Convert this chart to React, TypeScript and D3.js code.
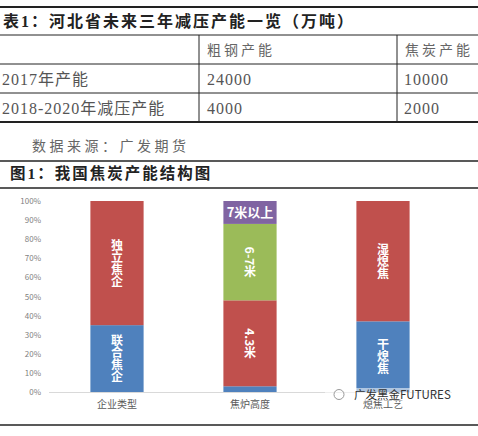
import React from 'react';
import * as d3 from 'd3';

// ---- Table data ----
const tableTitle = '表1：河北省未来三年减压产能一览（万吨）';
const tableHeaders = ['', '粗钢产能', '焦炭产能'];
const rowLabels = ['2017年产能', '2018-2020年减压产能'];
const steelValues = [24000, 4000];
const cokeValues = [10000, 2000];
const sourceText = '数据来源：广发期货';

// ---- Chart data ----
const chartTitle = '图1：我国焦炭产能结构图';
const categories = ['企业类型', '焦炉高度', '熄焦工艺'];
const enterpriseLabels = ['联合焦企', '独立焦企'];
const enterpriseValues = [35, 65];
const heightLabels = ['', '4.3米', '6-7米', '7米以上'];
const heightValues = [3, 45, 40, 12];
const quenchLabels = ['干熄焦', '湿熄焦'];
const quenchValues = [37, 63];
const yTicks = [0, 10, 20, 30, 40, 50, 60, 70, 80, 90, 100];
const watermark = '广发黑金FUTURES';

const stacks = [
  { cat: categories[0], labels: enterpriseLabels, values: enterpriseValues, colors: ['#4F81BD', '#C0504D'] },
  { cat: categories[1], labels: heightLabels, values: heightValues, colors: ['#4F81BD', '#C0504D', '#9BBB59', '#8064A2'] },
  { cat: categories[2], labels: quenchLabels, values: quenchValues, colors: ['#4F81BD', '#C0504D'] },
];

const serif = "'Liberation Serif', 'DejaVu Serif', 'Noto Sans CJK SC', serif";
const sans = "'Noto Sans CJK SC', 'Noto Sans', sans-serif";

export default function App() {
  const W = 478, H = 436;
  const x = d3.scaleBand<string>().domain(categories).range([50.5, 449.5]).paddingInner(0.6).paddingOuter(0.3);
  const y = d3.scaleLinear().domain([0, 100]).range([392, 201]);

  const colX = [0, 199, 397];
  const rowY = [35, 64, 93, 122];

  return (
    <svg width={W} height={H} style={{ position: 'absolute', left: 0, top: 0, background: '#fff' }}>
      {/* table */}
      <line x1={0} x2={W} y1={7} y2={7} stroke="#222" strokeWidth={2} />
      <text x={3} y={26.5} fontFamily={serif} fontWeight="bold" fontSize={16} fill="#222" letterSpacing={2}>{tableTitle}</text>
      {rowY.map((yy, i) => (
        <line key={'r' + i} x1={0} x2={W} y1={yy} y2={yy} stroke="#222" strokeWidth={i === 3 ? 2 : 1} />
      ))}
      {colX.slice(1).map((xx, i) => (
        <line key={'c' + i} x1={xx} x2={xx} y1={rowY[0]} y2={rowY[3]} stroke="#222" strokeWidth={1} />
      ))}
      {tableHeaders.map((h, i) => (
        <text key={'h' + i} x={colX[i] + 8} y={55} fontFamily={serif} fontSize={14} fill="#666" letterSpacing={3}>{h}</text>
      ))}
      {rowLabels.map((r, i) => (
        <g key={'row' + i} fontFamily={serif} fontSize={16} fill="#555" letterSpacing={1}>
          <text x={2} y={rowY[i + 1] + 20.5}>{r}</text>
          <text x={colX[1] + 8} y={rowY[i + 1] + 20.5}>{steelValues[i]}</text>
          <text x={colX[2] + 7} y={rowY[i + 1] + 20.5}>{cokeValues[i]}</text>
        </g>
      ))}
      <text x={32} y={150.5} fontFamily={serif} fontSize={14} fill="#666" letterSpacing={3.5}>{sourceText}</text>
      <line x1={0} x2={W} y1={161} y2={161} stroke="#222" strokeWidth={1.5} />
      <text x={10} y={179} fontFamily={serif} fontWeight="bold" fontSize={15.5} fill="#222" letterSpacing={2}>{chartTitle}</text>
      <line x1={0} x2={W} y1={188} y2={188} stroke="#222" strokeWidth={1.5} />

      {/* chart */}
      {yTicks.map((t) => (
        <text key={'yt' + t} x={41} y={y(t) + 3} textAnchor="end" fontFamily={sans} fontSize={8} fill="#7f7f7f">{t + '%'}</text>
      ))}
      <line x1={49} x2={452} y1={392.5} y2={392.5} stroke="#d9d9d9" strokeWidth={1} />
      {stacks.map((s) => {
        let acc = 0;
        const bx = x(s.cat)!;
        const bw = x.bandwidth();
        return (
          <g key={s.cat}>
            {s.values.map((v, i) => {
              const y0 = y(acc);
              const y1 = y(acc + v);
              acc += v;
              const cy = (y0 + y1) / 2;
              const label = s.labels[i];
              const vertical = label !== '7米以上';
              return (
                <g key={i}>
                  <rect x={bx} y={y1} width={bw} height={y0 - y1} fill={s.colors[i]} />
                  {label && (vertical ? (
                    <text x={bx + bw / 2} y={cy} textAnchor="middle" fontFamily={sans} fontWeight="bold" fontSize={12} fill="#fff"
                      style={{ writingMode: 'vertical-rl', textOrientation: 'mixed' } as any} dominantBaseline="central">{label}</text>
                  ) : (
                    <text x={bx + bw / 2} y={cy + 4.5} textAnchor="middle" fontFamily={sans} fontWeight="bold" fontSize={13} fill="#fff">{label}</text>
                  ))}
                </g>
              );
            })}
          </g>
        );
      })}
      {categories.map((c) => (
        <text key={'xl' + c} x={x(c)! + x.bandwidth() / 2} y={408} textAnchor="middle" fontFamily={sans} fontSize={10} fill="#595959">{c}</text>
      ))}
      {/* watermark */}
      <rect x={325} y={388} width={130} height={13} fill="#fff" opacity={0.55} />
      <circle cx={339} cy={394.5} r={5} fill="none" stroke="#999" strokeWidth={1} />
      <text x={354} y={398.5} fontFamily={sans} fontSize={11.5} fill="#333">{watermark}</text>

      <line x1={0} x2={W} y1={425} y2={425} stroke="#222" strokeWidth={1.5} />
    </svg>
  );
}
